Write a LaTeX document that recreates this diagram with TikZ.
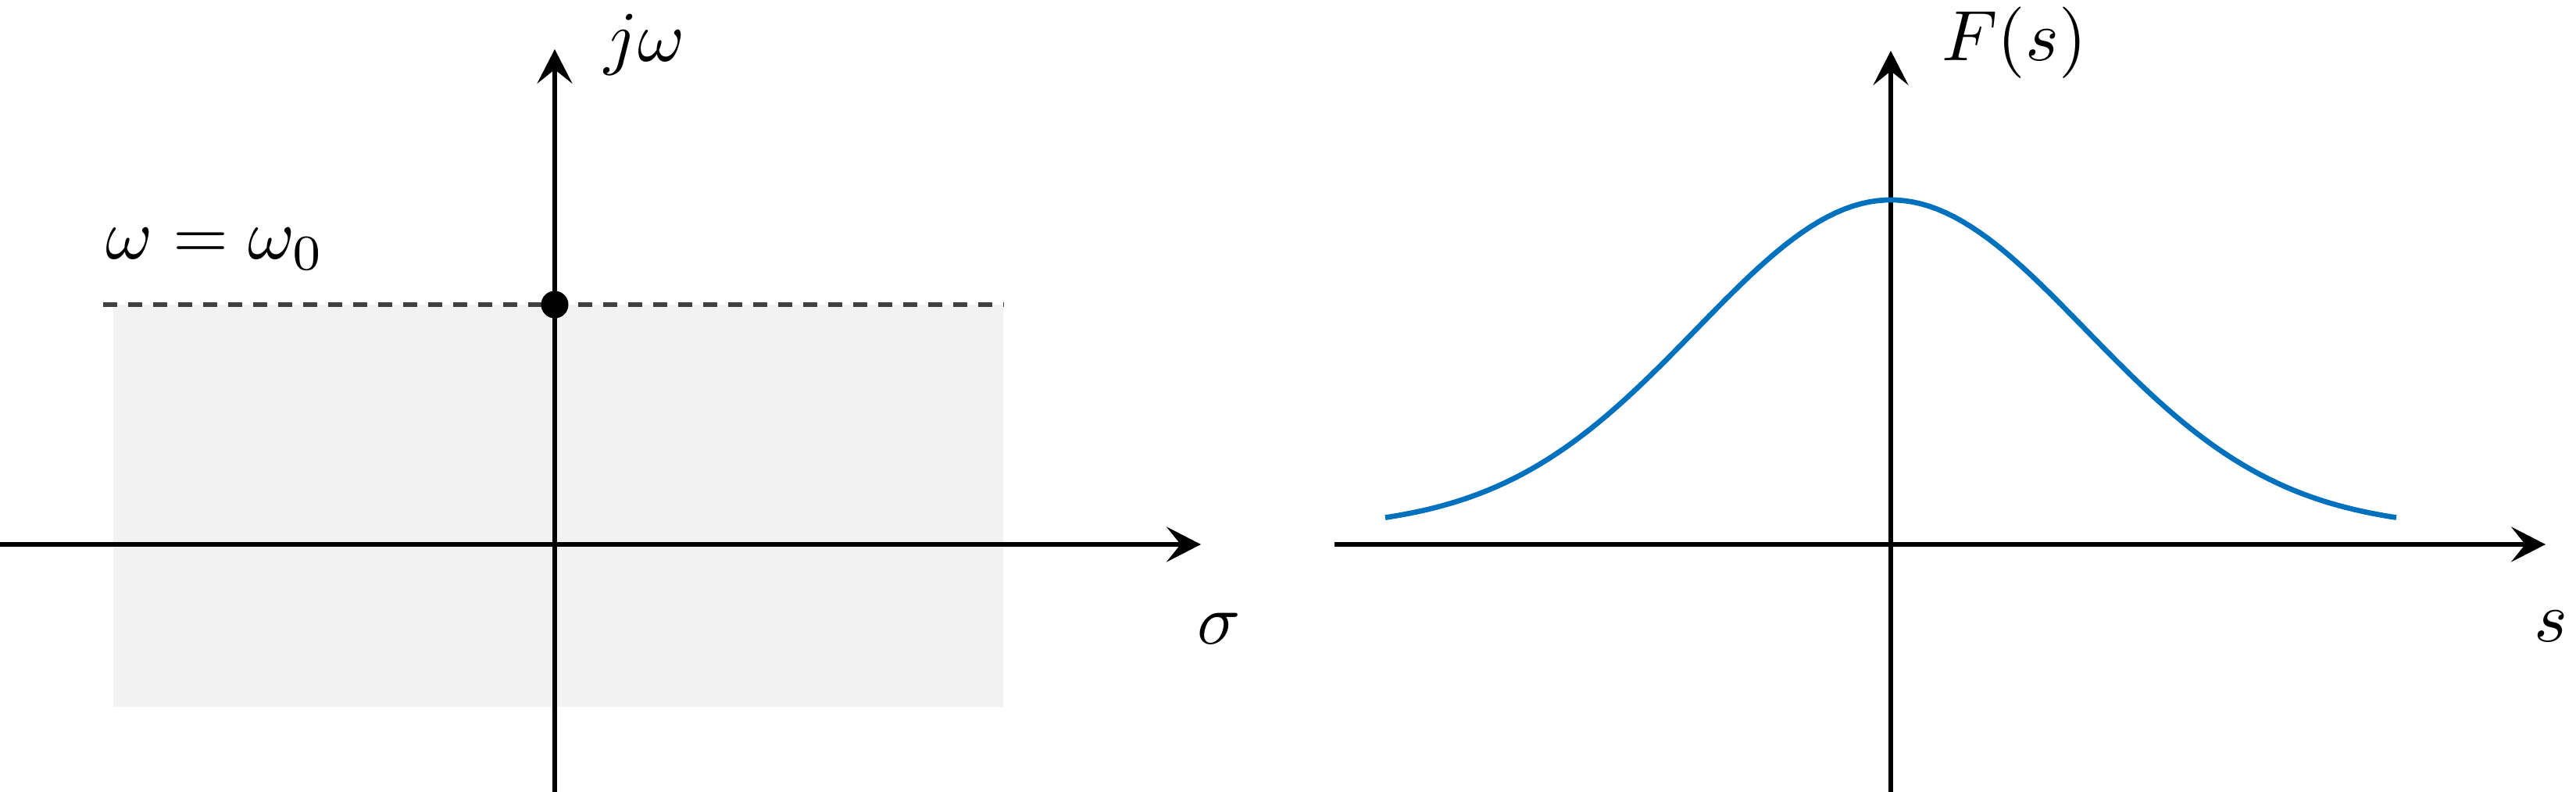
\documentclass[tikz,border=0pt]{standalone}
\usetikzlibrary{arrows.meta}
\definecolor{curveblue}{RGB}{0,114,189}
\definecolor{shadegray}{RGB}{242,242,242}
\definecolor{dashgray}{RGB}{64,64,64}
\begin{document}
\begin{tikzpicture}[axis line/.style={draw=black,line width=1.5pt,-{Stealth[length=4.4mm,width=4.5mm,inset=1.8mm]}},label text/.style={inner sep=0pt,scale=2.6,transform shape},pole dot/.style={circle,fill=black,minimum size=0.35cm,inner sep=0pt}]%
\useasboundingbox (-7.10,-3.17) rectangle (25.87,6.97);
% s-plane
\fill[shadegray] (-5.65,-2.08) rectangle (5.74,3.07);
\coordinate (w0l) at (-5.78,3.07);
\coordinate (w0r) at (5.74,3.07);
\draw[dashgray,line width=1.5pt,dash pattern=on 0.18cm off 0.14cm] (w0l) -- (w0r);
\coordinate (sl) at (-7.10,0);
\coordinate (sr) at (8.27,0);
\coordinate (wb) at (0,-3.17);
\coordinate (wt) at (0,6.34);
\draw[axis line] (sl) -- (sr);
\draw[axis line] (wb) -- (wt);
\node[pole dot] (p0) at (0,3.07) {};
\begin{scope}[every node/.style={label text}]
\node (jw) at (1.15,6.40) {$j\omega$};
\node (sig) at (8.50,-1.08) {$\sigma$};
\node[anchor=base west] (w0) at (-5.76,3.65) {$\omega=\omega_0$};
\end{scope}
% F(s)
\begin{scope}[xshift=17.10cm]
\coordinate (xl) at (-7.12,0);
\coordinate (xr) at (8.38,0);
\coordinate (fb) at (0,-3.17);
\coordinate (ft) at (0,6.32);
\draw[axis line] (xl) -- (xr);
\draw[axis line] (fb) -- (ft);
\draw[curveblue,line width=1.9pt] plot[domain=-6.47:6.47,samples=120] (\x,{0.2+4.21*exp(-(\x)^2/12.4)});
\begin{scope}[every node/.style={label text}]
\node (fs) at (1.58,6.42) {$F(s)$};
\node (sv) at (8.45,-1.05) {$s$};
\end{scope}
\end{scope}
\end{tikzpicture}
\end{document}
